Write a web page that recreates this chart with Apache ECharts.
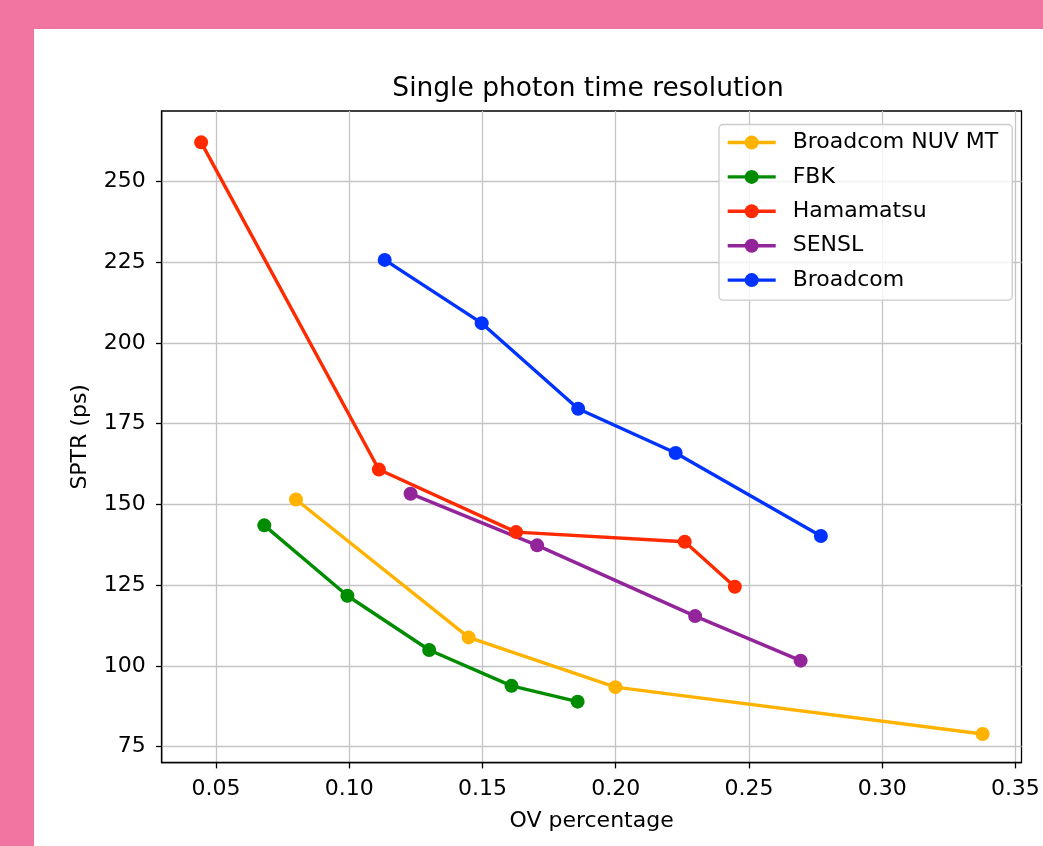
<!DOCTYPE html>
<html>
<head>
<meta charset="utf-8">
<script src="https://cdn.jsdelivr.net/npm/echarts@6/dist/echarts.min.js"></script>
<style>
    html, body { margin: 0; padding: 0; background: #f075a0; }
    #main { position: absolute; left: 34px; top: 29px; width: 1009px; height: 817px; background: #ffffff; }
</style>
</head>
<body>
<div id="main"></div>
<script>
// values
var nuvX = [0.0800, 0.1448, 0.1999, 0.3377];
var nuvY = [151.5, 108.8, 93.4, 78.9];
var fbkX = [0.0681, 0.0993, 0.1300, 0.1609, 0.1857];
var fbkY = [143.5, 121.7, 104.9, 93.8, 88.9];
var hamX = [0.0444, 0.1111, 0.1626, 0.2259, 0.2447];
var hamY = [262.1, 160.8, 141.4, 138.4, 124.5];
var senslX = [0.1230, 0.1705, 0.2298, 0.2694];
var senslY = [153.3, 137.3, 115.4, 101.6];
var brcX = [0.1133, 0.1497, 0.1859, 0.2225, 0.2770];
var brcY = [225.7, 206.1, 179.6, 165.9, 140.2];

var xTicks = [0.05, 0.10, 0.15, 0.20, 0.25, 0.30, 0.35];
var yTicks = [75, 100, 125, 150, 175, 200, 225, 250];

var font = 'DejaVu Sans';

function pairs(xs, ys) {
    return xs.map(function (x, i) { return [x, ys[i]]; });
}

function makeSeries(name, color, xs, ys) {
    return {
        name: name,
        type: 'line',
        data: pairs(xs, ys),
        symbol: 'circle',
        symbolSize: 14,
        showSymbol: true,
        lineStyle: { color: color, width: 3.4 },
        itemStyle: { color: color, borderWidth: 0 },
        emphasis: { disabled: true }
    };
}

var chart = echarts.init(document.getElementById('main'));
chart.setOption({
    animation: false,
    textStyle: { fontFamily: font },
    title: {
        text: 'Single photon time resolution',
        left: 549,
        textAlign: 'center',
        top: 42,
        textStyle: { fontFamily: font, fontSize: 26.5, fontWeight: 'normal', color: '#000' }
    },
    legend: {
        orient: 'vertical',
        left: 685,
        top: 95.5,
        padding: [7, 14, 9, 7],
        itemWidth: 48,
        itemHeight: 17.5,
        itemGap: 12.4,
        backgroundColor: 'rgba(255,255,255,0.8)',
        borderColor: '#cccccc',
        borderWidth: 1.3,
        borderRadius: 4,
        lineStyle: { width: 3.4 },
        textStyle: { fontFamily: font, fontSize: 22, color: '#000', padding: [0, 0, 0, 12] },
        data: ['Broadcom NUV MT', 'FBK', 'Hamamatsu', 'SENSL', 'Broadcom']
    },
    grid: {
        left: 127.7,
        right: 21.5,
        top: 82,
        bottom: 83.3,
        show: true,
        borderColor: '#000',
        borderWidth: 1.3,
        backgroundColor: 'transparent'
    },
    xAxis: {
        type: 'value',
        min: 0.0296,
        max: 0.3523,
        minInterval: 0.05,
        maxInterval: 0.05,
        name: 'OV percentage',
        nameLocation: 'middle',
        nameGap: 48,
        nameTextStyle: { fontFamily: font, fontSize: 22, color: '#000' },
        axisLine: { show: true, lineStyle: { color: '#000', width: 1.3 } },
        axisTick: { show: true, customValues: xTicks, length: 5.7, lineStyle: { color: '#000', width: 1.3 } },
        axisLabel: {
            customValues: xTicks,
            margin: 16,
            fontFamily: font, fontSize: 22, color: '#000',
            formatter: function (v) { return v.toFixed(2); }
        },
        splitLine: { show: true, lineStyle: { color: '#c4c4c4', width: 1.3 } }
    },
    yAxis: {
        type: 'value',
        min: 70,
        max: 271.8,
        minInterval: 25,
        maxInterval: 25,
        name: 'SPTR (ps)',
        nameLocation: 'middle',
        nameGap: 70,
        nameTextStyle: { fontFamily: font, fontSize: 22, color: '#000' },
        axisLine: { show: true, lineStyle: { color: '#000', width: 1.3 } },
        axisTick: { show: true, customValues: yTicks, length: 5.7, lineStyle: { color: '#000', width: 1.3 } },
        axisLabel: {
            customValues: yTicks,
            margin: 16,
            fontFamily: font, fontSize: 22, color: '#000'
        },
        splitLine: { show: true, lineStyle: { color: '#c4c4c4', width: 1.3 } }
    },
    series: [
        makeSeries('Broadcom NUV MT', '#ffb300', nuvX, nuvY),
        makeSeries('FBK', '#008c00', fbkX, fbkY),
        makeSeries('Hamamatsu', '#ff2a00', hamX, hamY),
        makeSeries('SENSL', '#93259a', senslX, senslY),
        makeSeries('Broadcom', '#0033ff', brcX, brcY)
    ]
});
</script>
</body>
</html>
